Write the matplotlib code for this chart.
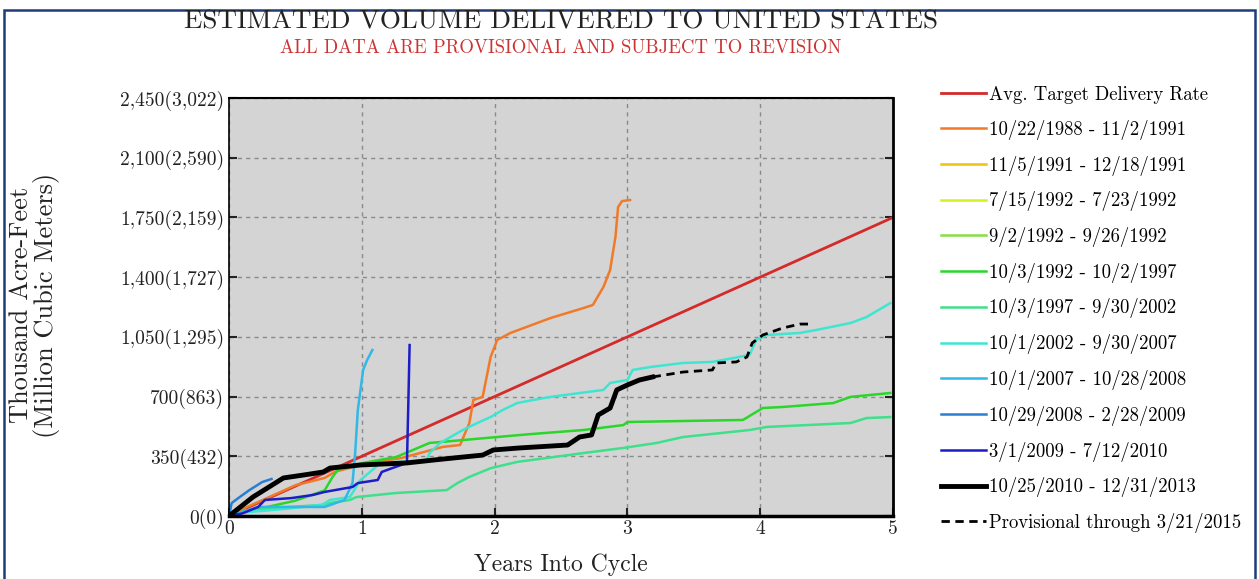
import matplotlib
matplotlib.use("Agg")
import matplotlib.pyplot as plt
from matplotlib.patches import Rectangle

plt.rcParams['font.family'] = ['cmr10', 'DejaVu Serif']
plt.rcParams['axes.formatter.use_mathtext'] = True

# years into cycle / thousand acre-feet
target_x = [0, 5]
target_y = [0, 1750]

c1988_x = [0, 0.1, 0.3, 0.5, 0.72, 0.8, 1.0, 1.3, 1.61, 1.74, 1.81, 1.84, 1.91, 1.94,
           1.97, 2.02, 2.12, 2.42, 2.67, 2.74, 2.82, 2.87, 2.91, 2.93, 2.96, 3.02]
c1988_y = [0, 40, 110, 180, 223, 260, 300, 340, 405, 416, 545, 680, 698, 815,
           932, 1032, 1073, 1160, 1219, 1237, 1343, 1442, 1636, 1811, 1846, 1852]

c1991_x = [0, 0.05, 0.12]
c1991_y = [0, 12, 30]

c1992a_x = [0, 0.02]
c1992a_y = [0, 5]

c1992b_x = [0, 0.03, 0.07]
c1992b_y = [0, 8, 20]

c1992_x = [0, 0.1, 0.3, 0.5, 0.72, 0.78, 0.82, 1.01, 1.26, 1.51, 1.76, 2.02, 2.27,
           2.67, 2.97, 3.0, 3.87, 4.02, 4.17, 4.55, 4.68, 4.98]
c1992_y = [0, 25, 55, 90, 150, 229, 270, 311, 346, 428, 445, 463, 480,
           504, 533, 551, 563, 633, 639, 662, 698, 721]

c1997_x = [0, 0.1, 0.3, 0.5, 0.7, 0.76, 0.91, 0.96, 1.26, 1.64, 1.72, 1.81, 1.97,
           2.17, 2.67, 2.97, 3.22, 3.42, 3.92, 4.05, 4.68, 4.80, 4.98]
c1997_y = [0, 25, 45, 55, 65, 76, 94, 111, 135, 152, 193, 229, 280,
           317, 369, 399, 428, 463, 504, 522, 545, 574, 580]

c2002_x = [0, 0.1, 0.4, 0.7, 0.76, 0.91, 0.99, 1.08, 1.14, 1.49, 1.51, 1.59, 1.76,
           1.87, 1.97, 2.06, 2.17, 2.29, 2.42, 2.82, 2.87, 3.0, 3.04, 3.17, 3.42,
           3.64, 3.80, 3.92, 3.97, 4.05, 4.30, 4.42, 4.68, 4.80, 4.98]
c2002_y = [0, 20, 40, 65, 94, 111, 211, 270, 311, 328, 369, 428, 504,
           545, 580, 621, 662, 680, 698, 739, 780, 797, 856, 873, 897,
           903, 926, 944, 1032, 1061, 1073, 1090, 1131, 1166, 1248]

c2007_x = [0, 0.22, 0.72, 0.87, 0.93, 0.95, 0.97, 1.01, 1.04, 1.08]
c2007_y = [0, 53, 53, 94, 193, 369, 621, 856, 914, 973]

c2008_x = [0, 0.02, 0.07, 0.15, 0.25, 0.32]
c2008_y = [0, 76, 105, 150, 199, 217]

c2009_x = [0, 0.1, 0.22, 0.27, 0.47, 0.63, 0.72, 0.93, 0.97, 1.12, 1.15, 1.23, 1.34, 1.35, 1.36]
c2009_y = [0, 15, 53, 94, 105, 123, 141, 170, 193, 211, 258, 281, 311, 650, 1002]

c2010_x = [0, 0.18, 0.41, 0.56, 0.71, 0.76, 0.99, 1.34, 1.54, 1.69, 1.91, 1.99, 2.19,
           2.55, 2.64, 2.73, 2.78, 2.87, 2.92, 3.0, 3.09, 3.19]
c2010_y = [0, 111, 223, 240, 258, 281, 299, 311, 328, 340, 357, 387, 399,
           416, 463, 475, 592, 633, 739, 768, 797, 815]

prov_x = [3.19, 3.42, 3.64, 3.67, 3.82, 3.9, 3.94, 4.02, 4.17, 4.30, 4.40]
prov_y = [815, 844, 856, 897, 903, 932, 1014, 1061, 1102, 1125, 1125]

y_ticks = [0, 350, 700, 1050, 1400, 1750, 2100, 2450]
y_tick_labels = ['0(0)', '350(432)', '700(863)', '1,050(1,295)', '1,400(1,727)',
                 '1,750(2,159)', '2,100(2,590)', '2,450(3,022)']
x_ticks = [0, 1, 2, 3, 4, 5]

fig = plt.figure(figsize=(12.59, 5.79), dpi=100)
ax = fig.add_axes([229 / 1259, 1 - 516 / 579, 664 / 1259, 418 / 579])
ax.set_facecolor('#d4d4d4')

ax.plot(target_x, target_y, color='#d42a2a', lw=2, label='Avg. Target Delivery Rate')
ax.plot(c1988_x, c1988_y, color='#f07a28', lw=1.8, label='10/22/1988 - 11/2/1991')
ax.plot(c1991_x, c1991_y, color='#f0c010', lw=1.8, label='11/5/1991 - 12/18/1991')
ax.plot(c1992a_x, c1992a_y, color='#d4f020', lw=1.8, label='7/15/1992 - 7/23/1992')
ax.plot(c1992b_x, c1992b_y, color='#86e048', lw=1.8, label='9/2/1992 - 9/26/1992')
ax.plot(c1992_x, c1992_y, color='#2ad62a', lw=1.8, label='10/3/1992 - 10/2/1997')
ax.plot(c1997_x, c1997_y, color='#3ee08a', lw=1.8, label='10/3/1997 - 9/30/2002')
ax.plot(c2002_x, c2002_y, color='#3ee6d2', lw=1.8, label='10/1/2002 - 9/30/2007')
ax.plot(c2007_x, c2007_y, color='#30b8e6', lw=1.8, label='10/1/2007 - 10/28/2008')
ax.plot(c2008_x, c2008_y, color='#2a7ed2', lw=1.8, label='10/29/2008 - 2/28/2009')
ax.plot(c2009_x, c2009_y, color='#1c1cc8', lw=1.8, label='3/1/2009 - 7/12/2010')
ax.plot(c2010_x, c2010_y, color='black', lw=3.5, label='10/25/2010 - 12/31/2013')
ax.plot(prov_x, prov_y, color='black', lw=2, ls=(0, (3, 2)), label='Provisional through 3/21/2015')

ax.set_xlim(0, 5)
ax.set_ylim(0, 2450)
ax.set_xticks(x_ticks)
ax.set_xticklabels([str(t) for t in x_ticks])
ax.set_yticks(y_ticks)
ax.set_yticklabels(y_tick_labels)
ax.tick_params(direction='in', right=True, length=6, width=1.5, labelsize=14, colors='#222222')
ax.tick_params(axis='x', pad=3)
ax.grid(True, color='#8a8a8a', ls=(0, (3, 3)), lw=1)
for side, w in [('bottom', 2.5), ('top', 1.5), ('right', 2), ('left', 1.2)]:
    ax.spines[side].set_linewidth(w)

ax.legend(loc='upper left', bbox_to_anchor=(941 / 1259, 1 - 86 / 579),
          bbox_transform=fig.transFigure, frameon=False, fontsize=13.5,
          handlelength=2.4, handletextpad=0.15, labelspacing=0.84,
          borderpad=0, borderaxespad=0)

fig.text(561 / 1259, 1 - 22 / 579, 'ESTIMATED VOLUME DELIVERED TO UNITED STATES',
         ha='center', va='center', fontsize=19.5, color='#222222')
fig.text(561 / 1259, 1 - 48 / 579, 'ALL DATA ARE PROVISIONAL AND SUBJECT TO REVISION',
         ha='center', va='center', fontsize=13.5, color='#cc3333')
fig.text(35 / 1259, 1 - 305 / 579, 'Thousand Acre-Feet\n(Million Cubic Meters)',
         ha='center', va='center', rotation=90, fontsize=19, color='#222222',
         multialignment='center', linespacing=1.0)
fig.text(561 / 1259, 1 - 565 / 579, 'Years Into Cycle',
         ha='center', va='center', fontsize=17, color='#222222')

# navy frame around the figure
fig.patches.append(Rectangle((4 / 1259, -0.05), 1251 / 1259, 1.05 - 10 / 579,
                             transform=fig.transFigure, fill=False,
                             edgecolor='#1f3c78', lw=1.8))

fig.savefig('out.png', dpi=100)
